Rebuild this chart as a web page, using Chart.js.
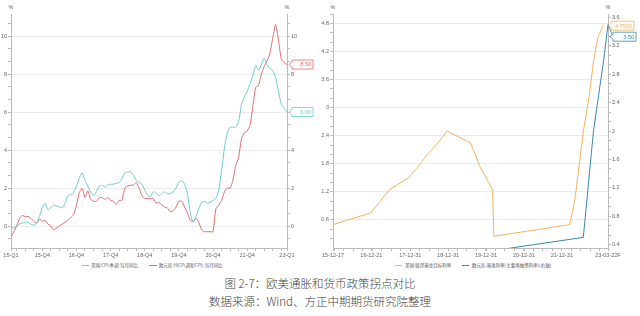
<!DOCTYPE html>
<html><head><meta charset="utf-8">
<script src="https://cdn.jsdelivr.net/npm/chart.js@4.4.1/dist/chart.umd.min.js"></script>
<style>
html,body{margin:0;padding:0;background:#fff;width:640px;height:316px;overflow:hidden;position:relative;font-family:"Noto Sans CJK SC",sans-serif;}
#c1{position:absolute;left:0;top:0;}
#c2{position:absolute;left:320px;top:0;}
.lg{position:absolute;top:262px;font-size:4.5px;line-height:6px;color:#555;white-space:nowrap;}
.mk{position:absolute;top:265px;height:1px;}
.cap{position:absolute;left:0;width:640px;text-align:center;color:#444;font-size:11.5px;line-height:14px;font-weight:300;}
</style></head>
<body>
<canvas id="c1" width="320" height="262" style="width:320px;height:262px"></canvas>
<canvas id="c2" width="320" height="262" style="width:320px;height:262px"></canvas>

<div class="mk" style="left:82px;width:7px;background:#6ccbcb"></div>
<div class="lg" style="left:91px">美国:CPI:季调:当月同比</div>
<div class="mk" style="left:149px;width:8px;background:#e06c6c"></div>
<div class="lg" style="left:159px">欧元区:HICP(调和CPI):当月同比</div>

<div class="mk" style="left:395px;width:7px;background:#f4b35e"></div>
<div class="lg" style="left:405px">美国:联邦基金目标利率</div>
<div class="mk" style="left:462px;width:7px;background:#3a87b0"></div>
<div class="lg" style="left:472px">欧元区:基准利率(主要再融资利率)(右轴)</div>

<div class="cap" style="top:276px">图 2-7：欧美通胀和货币政策拐点对比</div>
<div class="cap" style="top:294px">数据来源：Wind、方正中期期货研究院整理</div>

<script>
// ---------- Left chart data (monthly, 2015-01 .. 2023-02) ----------
const months = [
 '2015-01','2015-02','2015-03','2015-04','2015-05','2015-06','2015-07','2015-08','2015-09','2015-10','2015-11','2015-12',
 '2016-01','2016-02','2016-03','2016-04','2016-05','2016-06','2016-07','2016-08','2016-09','2016-10','2016-11','2016-12',
 '2017-01','2017-02','2017-03','2017-04','2017-05','2017-06','2017-07','2017-08','2017-09','2017-10','2017-11','2017-12',
 '2018-01','2018-02','2018-03','2018-04','2018-05','2018-06','2018-07','2018-08','2018-09','2018-10','2018-11','2018-12',
 '2019-01','2019-02','2019-03','2019-04','2019-05','2019-06','2019-07','2019-08','2019-09','2019-10','2019-11','2019-12',
 '2020-01','2020-02','2020-03','2020-04','2020-05','2020-06','2020-07','2020-08','2020-09','2020-10','2020-11','2020-12',
 '2021-01','2021-02','2021-03','2021-04','2021-05','2021-06','2021-07','2021-08','2021-09','2021-10','2021-11','2021-12',
 '2022-01','2022-02','2022-03','2022-04','2022-05','2022-06','2022-07','2022-08','2022-09','2022-10','2022-11','2022-12',
 '2023-01','2023-02'];

const usCpi = [
 -0.1,-0.1,0.0,0.1,0.15,0.2,0.2,0.1,0.05,0.15,0.5,1.0,
 1.2,0.85,0.95,1.1,1.05,1.0,0.95,1.2,1.6,1.65,1.75,2.1,
 2.5,2.8,2.4,2.1,1.8,1.6,1.8,2.1,2.15,2.05,2.15,2.2,
 2.2,2.25,2.3,2.5,2.8,2.85,2.85,2.7,2.4,2.3,2.2,1.9,
 1.6,1.55,1.8,1.75,1.6,1.7,1.8,1.7,1.7,1.8,2.0,2.3,
 2.4,2.2,1.7,0.7,0.2,0.5,0.9,1.25,1.3,1.2,1.25,1.35,
 1.45,1.9,2.9,4.1,4.9,5.2,5.2,5.2,5.5,6.4,6.8,7.1,
 7.5,7.9,8.45,8.2,8.5,8.85,8.5,8.3,8.2,7.8,7.1,6.4,
 6.2,6.0];

const euHicp = [
 -0.6,-0.3,0.0,0.4,0.55,0.5,0.5,0.4,0.25,0.15,0.35,0.25,
 0.3,0.1,0.0,-0.2,-0.1,0.0,0.1,0.2,0.3,0.45,0.6,1.1,
 1.75,2.0,1.5,1.85,1.4,1.3,1.3,1.5,1.5,1.4,1.5,1.35,
 1.3,1.15,1.35,1.35,2.0,2.1,2.15,2.15,2.3,2.0,1.6,1.45,
 1.45,1.45,1.45,1.2,1.25,1.1,1.0,0.95,0.75,0.8,1.0,1.3,
 1.3,1.0,0.7,0.3,0.25,0.4,0.2,-0.2,-0.3,-0.3,-0.3,-0.3,
 0.9,1.1,1.35,1.8,2.0,2.0,2.4,3.2,3.6,4.6,4.9,5.0,
 5.3,6.3,7.3,7.4,8.0,8.4,8.7,9.1,9.9,10.6,9.8,8.8,
 8.6,8.5];

const leftXTickMonths = ['2015-01','2015-12','2016-12','2017-12','2018-12','2019-12','2020-12','2021-12','2023-02'];
const leftXTickText   = ['15-Q1','15-Q4','16-Q4','17-Q4','18-Q4','19-Q4','20-Q4','21-Q4','23-Q1'];
const leftYTicks = [0,2,4,6,8,10];

// ---------- Right chart data ----------
const fedDates = ['2015-12-17','2016-12-15','2017-03-16','2017-06-15','2017-12-14','2018-03-22','2018-06-14','2018-09-27','2018-12-20',
 '2019-08-01','2019-09-19','2019-10-31','2020-03-04','2020-03-16','2022-03-17','2022-05-05','2022-06-16','2022-07-28','2022-09-22',
 '2022-11-03','2022-12-15','2023-02-02'];
const fedRate = [0.5,0.75,1.0,1.25,1.5,1.75,2.0,2.25,2.5,2.25,2.0,1.75,1.25,0.25,0.5,1.0,1.75,2.5,3.25,4.0,4.5,4.75];

const ecbDates = ['2015-12-17','2016-03-16','2022-07-27','2022-09-14','2022-11-02','2022-12-21','2023-02-08','2023-03-22'];
const ecbRate  = [0.05,0.0,0.5,1.25,2.0,2.5,3.0,3.5];

const rightXTickDates = ['2015-12-17','2016-12-21','2017-12-31','2018-12-31','2019-12-31','2020-12-31','2021-12-31','2023-03-22'];
const rightXTickText  = ['15-12-17','16-12-21','17-12-31','18-12-31','19-12-31','20-12-31','21-12-31','23-03-22F'];
const fedAxisTicks = [0.6,1.2,1.8,2.4,3,3.6,4.2,4.8];
const ecbAxisTicks = [0.4,0.8,1.2,1.6,2,2.4,2.8,3.2,3.6];

// ---------- helpers ----------
const TICK_FONT = {family:'"Liberation Sans", Arial, sans-serif', size:5.5};
const TICK_COLOR = '#666';
const AXIS_COLOR = '#bbb';
const GRID_COLOR = '#ececec';
const T = s => Date.parse(s);

function withMinors(majors, parts){
  const out = [];
  for (let i=0;i<majors.length;i++){
    out.push({value:majors[i], major:true});
  }
  const step = majors[1]-majors[0];
  const lo = majors[0]-step, hi = majors[majors.length-1]+step;
  for (let b=lo; b<=hi+1e-9; b+=step){
    for (let k=1;k<parts;k++){ out.push({value:+(b+step*k/parts).toFixed(4), major:false}); }
  }
  return out;
}
function yTicksBuilder(majors, parts){
  return function(scale){
    const all = withMinors(majors, parts).filter(t=>t.value>=scale.min-1e-9 && t.value<=scale.max+1e-9);
    all.sort((a,b)=>a.value-b.value);
    scale.ticks = all;
  };
}
function isMajorTick(scale, idx){ const t = scale.ticks[idx]; return t && t.major; }

const tagPlugin = {
  id:'tags',
  afterDraw(chart, args, opts){
    const {ctx, chartArea:ca} = chart;
    ctx.save();
    ctx.font = '5.5px "Liberation Sans", Arial, sans-serif';
    ctx.fillStyle = '#666'; ctx.textAlign='center'; ctx.textBaseline='middle';
    ctx.fillText('%', ca.left, 7);
    ctx.fillText('%', ca.right, 7);
    const h = 9;
    const placed = [];
    chart.data.datasets.forEach((ds,i)=>{
      const meta = chart.getDatasetMeta(i);
      const el = meta.data[meta.data.length-1];
      const raw = ds.data[ds.data.length-1];
      const v = (typeof raw === 'object') ? raw.y : raw;
      const txt = v.toFixed(opts.decimals[i]);
      const col = ds.borderColor;
      const vy = el.y;
      let cy = vy;
      let shifted = false;
      for (const p of placed){
        if (Math.abs(cy - p) < h + 2){ cy = p + h + 2; shifted = true; }
      }
      placed.push(cy);
      const x0 = ca.right + opts.offset[i];
      const w = opts.width;
      const top = cy - h/2, bot = cy + h/2;
      ctx.lineWidth = 0.8;
      ctx.strokeStyle = col;
      if (shifted){
        ctx.beginPath(); ctx.moveTo(ca.right, vy); ctx.lineTo(x0, cy); ctx.stroke();
      }
      ctx.beginPath();
      ctx.moveTo(x0-3, cy);
      ctx.lineTo(x0, cy-2.5);
      ctx.lineTo(x0, top);
      ctx.lineTo(x0+w, top);
      ctx.lineTo(x0+w, bot);
      ctx.lineTo(x0, bot);
      ctx.lineTo(x0, cy+2.5);
      ctx.closePath();
      ctx.fillStyle = opts.fill[i];
      ctx.fill();
      ctx.stroke();
      ctx.fillStyle = col;
      ctx.textAlign = 'right';
      ctx.fillText(txt, x0+w-2, cy+0.3);
    });
    ctx.restore();
  }
};

function yAxis(pos, min, max, majors, parts, width, onArea){
  return {
    type:'linear', position:pos, min:min, max:max,
    afterBuildTicks: yTicksBuilder(majors, parts),
    afterFit(s){ s.width = width; },
    border:{color:AXIS_COLOR, width:1},
    grid:{
      drawOnChartArea:onArea,
      color:(c)=> (c.tick && c.tick.major) ? GRID_COLOR : 'rgba(0,0,0,0)',
      tickColor: AXIS_COLOR, tickLength:3, lineWidth:1
    },
    ticks:{
      autoSkip:false, padding:1, font:TICK_FONT, color:TICK_COLOR,
      callback:function(val, idx){ return isMajorTick(this, idx) ? String(Math.round(val*10)/10) : ''; }
    }
  };
}

// ---------- Left chart ----------
new Chart(document.getElementById('c1'), {
  type:'line',
  data:{
    labels: months,
    datasets:[
      {label:'美国:CPI:季调:当月同比', data:usCpi, borderColor:'#6ccbcb', backgroundColor:'#6ccbcb', borderWidth:1, pointRadius:0, tension:0.2, yAxisID:'y'},
      {label:'欧元区:HICP(调和CPI):当月同比', data:euHicp, borderColor:'#e06c6c', backgroundColor:'#e06c6c', borderWidth:1, pointRadius:0, tension:0.2, yAxisID:'y'}
    ]
  },
  options:{
    responsive:false, animation:false, devicePixelRatio:1,
    layout:{padding:{top:14,left:0,right:0,bottom:0}},
    plugins:{legend:{display:false}, tooltip:{enabled:false},
      tags:{decimals:[2,2], offset:[5,5], width:21, fill:['#ffffff','#ffffff']}},
    scales:{
      x:{
        type:'category',
        afterFit(s){ s.height = 14; },
        border:{color:AXIS_COLOR, width:1},
        grid:{drawOnChartArea:false, tickLength:3,
          tickColor:(c)=>{ const lab = months[c.index]; return (leftXTickMonths.includes(lab) || c.index%3===2) ? AXIS_COLOR : 'rgba(0,0,0,0)'; }},
        ticks:{autoSkip:false, maxRotation:0, minRotation:0, padding:1, font:TICK_FONT, color:TICK_COLOR,
          callback:(v, idx)=>{ const k = leftXTickMonths.indexOf(months[idx]); return k>=0 ? leftXTickText[k] : ''; }}
      },
      y: yAxis('left', -1.158, 11.16, leftYTicks, 3, 11, true),
      y1: yAxis('right', -1.158, 11.16, leftYTicks, 3, 33, false)
    }
  },
  plugins:[tagPlugin]
});

// ---------- Right chart ----------
const xMin = T('2015-12-17'), xMax = T('2023-03-22');
new Chart(document.getElementById('c2'), {
  type:'line',
  data:{
    datasets:[
      {label:'美国:联邦基金目标利率', data:fedDates.map((d,i)=>({x:T(d), y:fedRate[i]})), borderColor:'#f4b35e', backgroundColor:'#f4b35e', borderWidth:1, pointRadius:0, tension:0, yAxisID:'y'},
      {label:'欧元区:基准利率(主要再融资利率)(右轴)', data:ecbDates.map((d,i)=>({x:T(d), y:ecbRate[i]})), borderColor:'#3a87b0', backgroundColor:'#3a87b0', borderWidth:1, pointRadius:0, tension:0, yAxisID:'y1'}
    ]
  },
  options:{
    responsive:false, animation:false, devicePixelRatio:1,
    layout:{padding:{top:14,left:0,right:0,bottom:0}},
    plugins:{legend:{display:false}, tooltip:{enabled:false},
      tags:{decimals:[4,2], offset:[3,5], width:23, fill:['#fffaf2','#ffffff']}},
    scales:{
      x:{
        type:'linear', min:xMin, max:xMax,
        afterBuildTicks(scale){
          const ticks = rightXTickDates.map(d=>({value:T(d), major:true}));
          for (let y=2016;y<=2023;y++){ for (const m of [0,3,6,9]){ const v = Date.UTC(y,m,1); if (v>xMin && v<xMax) ticks.push({value:v, major:false}); } }
          ticks.sort((a,b)=>a.value-b.value);
          scale.ticks = ticks;
        },
        afterFit(s){ s.height = 14; },
        border:{color:AXIS_COLOR, width:1},
        grid:{drawOnChartArea:false, tickLength:3, tickColor:AXIS_COLOR},
        ticks:{autoSkip:false, maxRotation:0, minRotation:0, padding:1, font:TICK_FONT, color:TICK_COLOR,
          callback:function(v, idx){ const t = this.ticks[idx]; if (!t || !t.major) return ''; const k = rightXTickDates.map(T).indexOf(v); return k>=0 ? rightXTickText[k] : ''; }}
      },
      y: yAxis('left', 0, 5, fedAxisTicks, 3, 13, true),
      y1: yAxis('right', 0.35, 3.65, ecbAxisTicks, 3, 32, false)
    }
  },
  plugins:[tagPlugin]
});
</script>
</body></html>
